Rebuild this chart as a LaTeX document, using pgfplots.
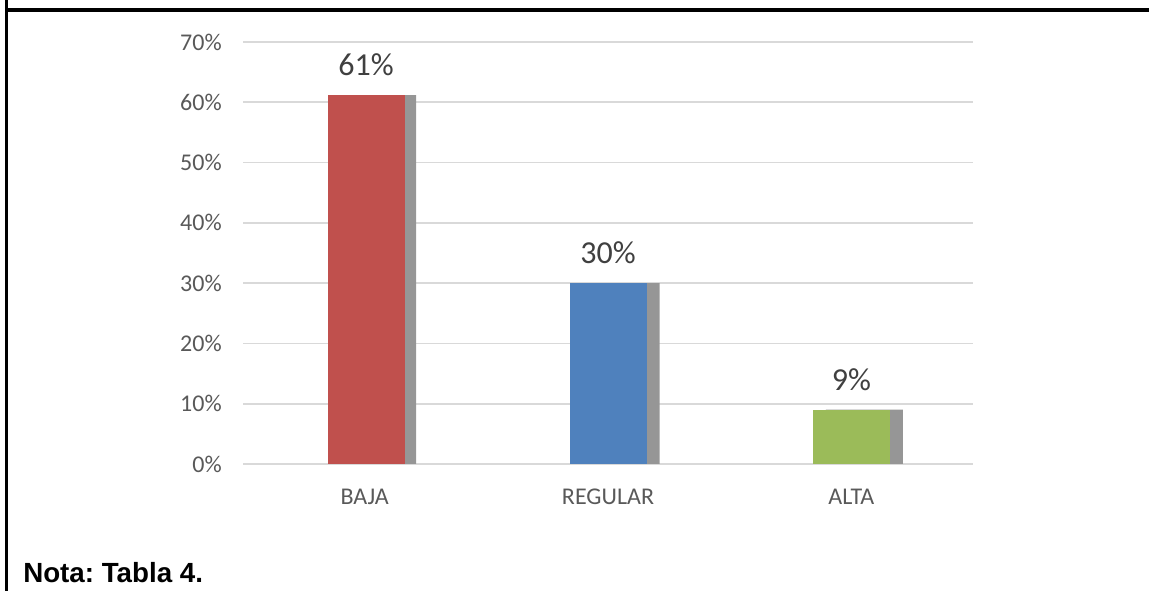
\documentclass[border=0pt]{standalone}
\usepackage{pgfplots}
\pgfplotsset{compat=1.18}
\usepackage{fontspec}
\setmainfont{Carlito}
\newfontfamily\arialfont{Liberation Sans}
\definecolor{cred}{HTML}{C0504D}
\definecolor{cblue}{HTML}{4F81BD}
\definecolor{cgreen}{HTML}{9BBB59}
\definecolor{cshadow}{HTML}{969696}
\definecolor{cgrid}{HTML}{D9D9D9}
\definecolor{ctick}{HTML}{595959}
\definecolor{clabel}{HTML}{404040}
\begin{document}
\frenchspacing
\begin{tikzpicture}
\useasboundingbox (0,0) rectangle (861.75pt,443.25pt);
% frame
\fill[black] (3.75pt,0pt) rectangle (6pt,443.25pt);
\fill[black] (3.75pt,434.25pt) rectangle (861.75pt,437.25pt);
\begin{axis}[
  at={(182.25pt,95.25pt)}, anchor=south west,
  scale only axis, width=547.5pt, height=316.5pt,
  xmin=-0.5, xmax=2.5, ymin=0, ymax=70,
  axis x line*=bottom, axis y line*=left,
  axis line style={draw=none},
  ybar, bar width=57.75pt,
  ymajorgrids, grid style={cgrid, line width=1.2pt},
  ytick={0,10,...,70},
  yticklabels={0\%,10\%,20\%,30\%,40\%,50\%,60\%,70\%},
  xtick={0,1,2}, xticklabels={BAJA,REGULAR,ALTA},
  major tick length=0pt,
  tick style={draw=none},
  tick label style={font=\fontsize{18pt}{21pt}\selectfont, text=ctick, inner sep=0pt},
  yticklabel style={anchor=east, xshift=-15.75pt},
  xticklabel style={anchor=north, yshift=-18.75pt},
  /pgf/number format/assume math mode=true,
  clip=false,
]
\addplot[fill=cshadow, draw=none, bar shift=9.75pt] coordinates {(0,61.2) (1,30) (2,9)};
\addplot[fill=cred, draw=none, bar shift=1pt,
  nodes near coords, point meta=explicit symbolic,
  nodes near coords style={anchor=south, inner sep=0pt, yshift=14.25pt, text=clabel, font=\fontsize{24pt}{27pt}\selectfont}]
  coordinates {(0,61.2) [61\%]};
\addplot[fill=cblue, draw=none, bar shift=0pt,
  nodes near coords, point meta=explicit symbolic,
  nodes near coords style={anchor=south, inner sep=0pt, yshift=14.25pt, text=clabel, font=\fontsize{24pt}{27pt}\selectfont}]
  coordinates {(1,30) [30\%]};
\addplot[fill=cgreen, draw=none, bar shift=0pt,
  nodes near coords, point meta=explicit symbolic,
  nodes near coords style={anchor=south, inner sep=0pt, yshift=14.25pt, text=clabel, font=\fontsize{24pt}{27pt}\selectfont}]
  coordinates {(2,9) [9\%]};
\end{axis}
\node[anchor=base west, inner sep=0pt, font=\arialfont\bfseries\fontsize{20.8pt}{23pt}\selectfont] at (17.25pt,6pt) {Nota: Tabla 4.};
\end{tikzpicture}
\end{document}
